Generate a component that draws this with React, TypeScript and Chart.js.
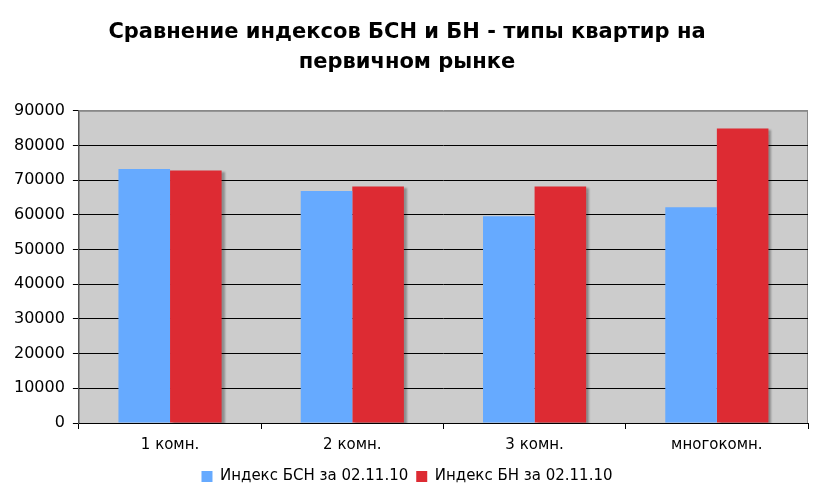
import { useRef, useEffect } from 'react';
import { Chart, registerables } from 'chart.js';

Chart.register(...registerables);

const categories = ['1 комн.', '2 комн.', '3 комн.', 'многокомн.'];
const bsnValues = [73200, 66900, 59600, 62200];
const bnValues = [72800, 68200, 68200, 84900];
const seriesLabels = ['Индекс БСН за 02.11.10', 'Индекс БН за 02.11.10'];
const titleLines = ['Сравнение индексов БСН и БН - типы квартир на', 'первичном рынке'];

// серый фон области построения и рамка
const plotBackground = {
  id: 'plotBackground',
  beforeDraw(chart: any) {
    const { ctx, chartArea } = chart;
    ctx.save();
    ctx.fillStyle = '#cccccc';
    ctx.fillRect(chartArea.left, chartArea.top, chartArea.right - chartArea.left, chartArea.bottom - chartArea.top);
    ctx.strokeStyle = '#888888';
    ctx.lineWidth = 1;
    ctx.strokeRect(chartArea.left + 0.5, chartArea.top + 0.5, chartArea.right - chartArea.left - 1, chartArea.bottom - chartArea.top);
    ctx.restore();
  },
};

// тень справа у красных столбцов
const barShadow = {
  id: 'barShadow',
  beforeDatasetDraw(chart: any, args: any) {
    const ctx = chart.ctx;
    ctx.save();
    if (args.index === 1) {
      ctx.shadowColor = 'rgba(0,0,0,0.3)';
      ctx.shadowOffsetX = 3;
      ctx.shadowOffsetY = 2;
      ctx.shadowBlur = 2;
    }
  },
  afterDatasetDraw(chart: any) {
    chart.ctx.restore();
  },
};

export default function App() {
  const canvasRef = useRef<HTMLCanvasElement>(null);

  useEffect(() => {
    document.body.style.margin = '0';
    const ctx = canvasRef.current?.getContext('2d');
    if (!ctx) return;
    const chart = new Chart(ctx, {
      type: 'bar',
      data: {
        labels: categories,
        datasets: [
          {
            label: seriesLabels[0],
            data: bsnValues,
            backgroundColor: '#66aaff',
            categoryPercentage: 0.566,
            barPercentage: 1,
          },
          {
            label: seriesLabels[1],
            data: bnValues,
            backgroundColor: '#dd2b33',
            categoryPercentage: 0.566,
            barPercentage: 1,
          },
        ],
      },
      options: {
        animation: false,
        responsive: false,
        layout: { padding: { left: 6, right: 11, top: 8, bottom: 4 } },
        plugins: {
          title: {
            display: true,
            text: titleLines,
            color: '#000',
            font: { family: 'DejaVu Sans', size: 21, weight: 'bold', lineHeight: 1.4 },
            padding: { top: 10, bottom: 34 },
          },
          legend: {
            position: 'bottom',
            labels: {
              color: '#000',
              boxWidth: 11,
              boxHeight: 11,
              padding: 8,
              font: { family: 'DejaVu Sans', size: 15 },
            },
          },
          tooltip: { enabled: false },
        },
        scales: {
          x: {
            grid: {
              offset: true,
              drawOnChartArea: false,
              drawTicks: true,
              tickLength: 6,
              color: '#000',
            },
            border: { color: '#000' },
            ticks: {
              color: '#000',
              padding: 7,
              font: { family: 'DejaVu Sans', size: 15 },
            },
          },
          y: {
            min: 0,
            max: 90000,
            grid: {
              color: (c: any) => (c.tick && c.tick.value === 90000 ? '#888888' : '#000000'),
              tickColor: '#000',
              tickLength: 6,
            },
            border: { color: '#555' },
            ticks: {
              stepSize: 10000,
              color: '#000',
              padding: 8,
              font: { family: 'DejaVu Sans', size: 16 },
              callback: (v: any) => String(v),
            },
          },
        },
      },
      plugins: [plotBackground, barShadow],
    });
    return () => chart.destroy();
  }, []);

  return (
    <div style={{ width: 819, height: 498, background: '#fff' }}>
      <canvas ref={canvasRef} width={819} height={498} />
    </div>
  );
}
